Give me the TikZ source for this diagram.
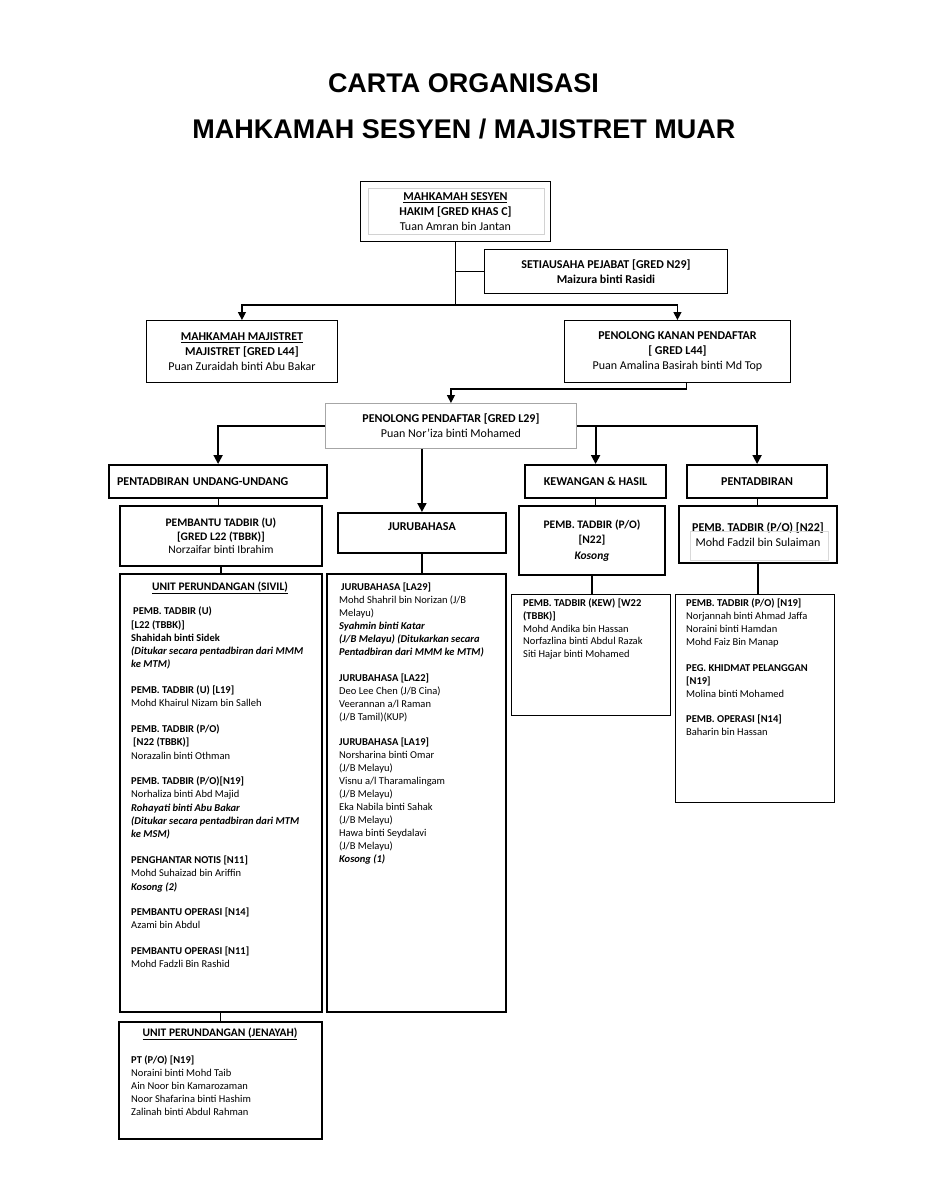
\documentclass[tikz,border=0pt]{standalone}
\usepackage{fontspec}
\setmainfont{Carlito}
\newfontfamily\titlefont{Liberation Sans}
\usetikzlibrary{arrows.meta,calc}
\newcommand{\cfont}{\fontsize{12}{15}\selectfont}
\newcommand{\lfont}{\fontsize{10.5}{13}\selectfont}
\newcommand{\bi}[1]{\textbf{\textit{#1}}}
\begin{document}
\begin{tikzpicture}[x=1pt,y=-1pt,
  box/.style={draw, line width=0.9pt, inner sep=0pt, align=center, anchor=north west, font=\cfont},
  hbox/.style={box, line width=2.2pt},
  tbox/.style={box, line width=1.9pt},
  lbox/.style={box, line width=1.5pt},
  listtxt/.style={anchor=north west, align=left, inner sep=0pt, font=\lfont},
  headtxt/.style={anchor=base, inner sep=0pt, font=\fontsize{11.5}{13}\selectfont},
  conn/.style={line width=1.1pt},
  arr/.style={line width=1.3pt, -{Triangle[length=8pt,width=8pt]}},
  arrb/.style={line width=1.9pt, -{Triangle[length=9pt,width=9pt]}},
  titletxt/.style={anchor=base, inner sep=0pt, font=\titlefont\bfseries\fontsize{27}{32}\selectfont}
]
\fill[white] (0,0) rectangle (927,1200);
\useasboundingbox (0,0) rectangle (927,1200);

% titles
\node[titletxt] (T1) at (463.5,92.5) {CARTA ORGANISASI};
\node[titletxt] (T2) at (464,138.5) {MAHKAMAH SESYEN / MAJISTRET MUAR};

% top boxes
\node[box, minimum width=190, minimum height=60] (A) at (360,181)
  {\underline{\textbf{MAHKAMAH SESYEN}}\\\textbf{HAKIM [GRED KHAS C]}\\Tuan Amran bin Jantan};
\draw[gray!35, line width=0.6pt] ([shift={(8,7)}]A.north west) rectangle ([shift={(-7,-8)}]A.south east);

\node[box, minimum width=243, minimum height=44] (B) at (484,249)
  {\textbf{SETIAUSAHA PEJABAT [GRED N29]}\\\textbf{Maizura binti Rasidi}};

\node[box, minimum width=191, minimum height=62] (C) at (146,320)
  {\underline{\textbf{MAHKAMAH MAJISTRET}}\\\textbf{MAJISTRET [GRED L44]}\\Puan Zuraidah binti Abu Bakar};

\node[box, minimum width=226, minimum height=62] (D) at (564,320)
  {\textbf{PENOLONG KANAN PENDAFTAR}\\\textbf{[ GRED L44]}\\Puan Amalina Basirah binti Md Top};

\node[box, draw=gray!70, minimum width=251, minimum height=45] (E) at (325,403)
  {\textbf{PENOLONG PENDAFTAR [GRED L29]}\\Puan Nor'iza binti Mohamed};

% section headers
\node[hbox, minimum width=218, minimum height=33, text width=202, align=left] (F) at (108,464)
  {\textbf{PENTADBIRAN UNDANG-UNDANG}};
\node[hbox, minimum width=141, minimum height=33] (G) at (524,464) {\textbf{KEWANGAN \& HASIL}};
\node[hbox, minimum width=140, minimum height=33] (H) at (686,464) {\textbf{PENTADBIRAN}};

% second level
\node[tbox, minimum width=202, minimum height=60, font=\fontsize{11.5}{13.5}\selectfont] (I) at (119,505)
  {\textbf{PEMBANTU TADBIR (U)}\\\textbf{[GRED L22 (TBBK)]}\\Norzaifar binti Ibrahim};
\node[tbox, minimum width=168, minimum height=40, text height=8pt, text depth=12.4pt] (J) at (337,512)
  {\textbf{JURUBAHASA}};
\node[tbox, minimum width=146, minimum height=69, font=\fontsize{11.5}{15.5}\selectfont] (K) at (518,505)
  {\textbf{PEMB. TADBIR (P/O)}\\\textbf{[N22]}\\\bi{Kosong}};
\node[tbox, minimum width=158, minimum height=57] (L) at (678,505)
  {\textbf{PEMB. TADBIR (P/O) [N22]}\\Mohd Fadzil bin Sulaiman};
\draw[gray!30, line width=0.6pt] ([shift={(12,26)}]L.north west) rectangle ([shift={(-10,-4)}]L.south east);

% list boxes
\node[lbox, minimum width=202, minimum height=438] (M) at (119,573) {};
\node[lbox, minimum width=179, minimum height=438] (N) at (326,573) {};
\node[lbox, line width=1.3pt, minimum width=159, minimum height=121] (O) at (511,594) {};
\node[lbox, line width=1.3pt, minimum width=159, minimum height=208] (P) at (675,594) {};
\node[lbox, minimum width=203, minimum height=117] (Q) at (118,1021) {};

% list texts
\node[headtxt] (Mh) at (220,590.5) {\underline{\textbf{UNIT PERUNDANGAN (SIVIL)}}};
\node[listtxt, font=\fontsize{10.5}{13.3}\selectfont] (Mt) at (131,605.2) {%
\strut\hspace*{2pt}\textbf{PEMB. TADBIR (U)}\\
\textbf{[L22 (TBBK)]}\\
\textbf{Shahidah binti Sidek}\\
\bi{(Ditukar secara pentadbiran dari MMM}\\
\bi{ke MTM)}\\[12.3pt]
\textbf{PEMB. TADBIR (U) [L19]}\\
Mohd Khairul Nizam bin Salleh\\[12.3pt]
\textbf{PEMB. TADBIR (P/O)}\\
\hspace*{2pt}\textbf{[N22 (TBBK)]}\\
Norazalin binti Othman\\[12.3pt]
\textbf{PEMB. TADBIR (P/O)[N19]}\\
Norhaliza binti Abd Majid\\
\bi{Rohayati binti Abu Bakar}\\
\bi{(Ditukar secara pentadbiran dari MTM}\\
\bi{ke MSM)}\\[12.3pt]
\textbf{PENGHANTAR NOTIS [N11]}\\
Mohd Suhaizad bin Ariffin\\
\bi{Kosong (2)}\\[12.3pt]
\textbf{PEMBANTU OPERASI [N14]}\\
Azami bin Abdul\\[12.3pt]
\textbf{PEMBANTU OPERASI [N11]}\\
Mohd Fadzli Bin Rashid};

\node[listtxt] (Nt) at (339,581.4) {%
\strut\hspace*{2pt}\textbf{JURUBAHASA [LA29]}\\
Mohd Shahril bin Norizan (J/B\\
Melayu)\\
\bi{Syahmin binti Katar}\\
\bi{(J/B Melayu) (Ditukarkan secara}\\
\bi{Pentadbiran dari MMM ke MTM)}\\[12.5pt]
\textbf{JURUBAHASA [LA22]}\\
Deo Lee Chen (J/B Cina)\\
Veerannan a/l Raman\\
(J/B Tamil)(KUP)\\[12.5pt]
\textbf{JURUBAHASA [LA19]}\\
Norsharina binti Omar\\
(J/B Melayu)\\
Visnu a/l Tharamalingam\\
(J/B Melayu)\\
Eka Nabila binti Sahak\\
(J/B Melayu)\\
Hawa binti Seydalavi\\
(J/B Melayu)\\
\bi{Kosong (1)}};

\node[listtxt, font=\fontsize{10.5}{12.75}\selectfont] (Ot) at (523,597.6) {%
\strut\textbf{PEMB. TADBIR (KEW) [W22}\\
\textbf{(TBBK)]}\\
Mohd Andika bin Hassan\\
Norfazlina binti Abdul Razak\\
Siti Hajar binti Mohamed};

\node[listtxt] (Pt) at (686,597.4) {%
\strut\textbf{PEMB. TADBIR (P/O) [N19]}\\
Norjannah binti Ahmad Jaffa\\
Noraini binti Hamdan\\
Mohd Faiz Bin Manap\\[12.5pt]
\textbf{PEG. KHIDMAT PELANGGAN}\\
\textbf{[N19]}\\
Molina binti Mohamed\\[12.5pt]
\textbf{PEMB. OPERASI [N14]}\\
Baharin bin Hassan};

\node[headtxt] (Qh) at (220,1036.5) {\underline{\textbf{UNIT PERUNDANGAN (JENAYAH)}}};
\node[listtxt] (Qt) at (131,1054.4) {%
\strut\textbf{PT (P/O) [N19]}\\
Noraini binti Mohd Taib\\
Ain Noor bin Kamarozaman\\
Noor Shafarina binti Hashim\\
Zalinah binti Abdul Rahman};

% connectors top
\coordinate (h1) at ($(A.south)+(0,63)$);
\draw[conn] (A.south) -- (h1);
\draw[conn] (B.west) -- (B.west -| A.south);
\draw[arr] (h1) -| (C.north);
\draw[arr] (h1) -| (D.north);
\draw[arr] ([xshift=9pt]D.south) -- ++(0,6) -| (E.north);

% connectors from E
\draw[arrb] (E.west) -| (F.north);
\draw[arrb] (E.east) -| (G.north);
\draw[arrb] (E.east) -| (H.north);
\draw[arrb] (E.south -| J.north) -- (J.north);

% vertical links
\draw[conn] (F.south) -- (F.south |- I.north);
\draw[conn] (I.south) -- (I.south |- M.north);
\draw[conn] (J.south) -- (J.south |- N.north);
\draw[conn] (G.south) -- (G.south |- K.north);
\draw[conn] (K.south) -- (K.south |- O.north);
\draw[conn] (H.south) -- (H.south |- L.north);
\draw[conn] (L.south) -- (L.south |- P.north);
\draw[conn] (M.south) -- (M.south |- Q.north);
\end{tikzpicture}
\end{document}
